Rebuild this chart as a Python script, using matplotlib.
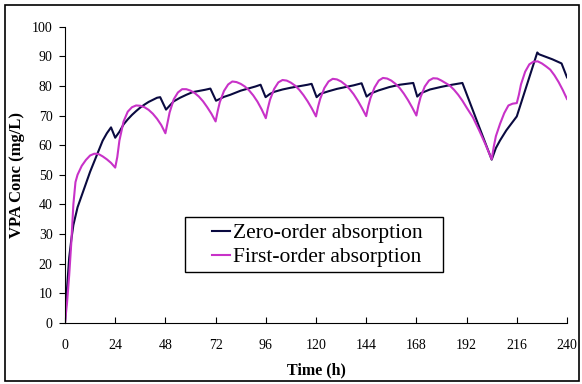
import matplotlib.pyplot as plt
from matplotlib.patches import Rectangle

plt.rcParams['font.family'] = ['Liberation Serif', 'DejaVu Serif']

# zero-order absorption
t_zero = [0, 1, 2, 3, 4, 5, 6, 7, 8, 10, 12, 14, 16, 18, 20, 22, 24,
          26, 28, 30, 32, 34, 36, 38, 40, 42, 44, 45.5, 48.3,
          50, 52, 55, 58, 61, 64, 67, 69.5, 72.2,
          74, 76, 79, 84, 88, 91, 93.5, 95.9,
          98, 100, 104, 108, 112, 116, 117.9, 120.3,
          122, 126, 130, 134, 138, 141.8, 144.2,
          146, 150, 155, 160, 166.5, 168.4,
          170, 174.5, 180, 185, 190,
          204, 206, 208, 211, 216, 225.8, 226.6, 233, 237.4, 240]
c_zero = [0, 12, 22, 28, 33, 36, 39, 41, 43, 47, 51, 54.5, 58, 61.5, 64, 66, 62.5,
          64.5, 67, 68.7, 70.2, 71.5, 72.7, 73.7, 74.6, 75.3, 76, 76.2, 72,
          73.3, 74.8, 76, 77, 77.9, 78.3, 78.7, 79.1, 75,
          75.6, 76.3, 77, 78.4, 79.2, 79.8, 80.4, 76.2,
          77.3, 78, 78.8, 79.4, 79.9, 80.4, 80.7, 76.2,
          77.3, 78.2, 79, 79.6, 80.2, 80.9, 76.4,
          77.4, 78.5, 79.6, 80.4, 81, 76.4,
          77.5, 78.8, 79.7, 80.4, 81,
          55.1, 59, 61.6, 65, 69.7, 91.3, 90.7, 89, 87.6, 82.9]

# first-order absorption
t_first = [0, 1, 2, 3, 4, 5, 6, 8, 10, 12, 14, 16, 18, 20, 22, 24,
           25, 26, 28, 30, 32, 34, 36, 38, 40, 42, 44, 46, 48,
           49, 50, 52, 54, 56, 58, 60, 62, 64, 66, 68, 70, 72,
           73, 74, 76, 78, 80, 82, 84, 86, 88, 90, 92, 94, 96,
           97, 98, 100, 102, 104, 106, 108, 110, 112, 114, 116, 118, 120,
           121, 122, 124, 126, 128, 130, 132, 134, 136, 138, 140, 142, 144,
           145, 146, 148, 150, 152, 154, 156, 158, 160, 162, 164, 166, 168,
           169, 170, 172, 174, 176, 178, 180, 184, 186, 188, 190, 192, 195, 198, 201, 204,
           205, 206, 208, 210, 212, 214, 216, 217, 218, 220, 222, 224, 226, 228, 230, 232,
           234, 236, 238, 240]
c_first = [0, 7, 16, 27, 40, 47.5, 50, 53, 55, 56.5, 57.1, 57, 56.2, 55.2, 54, 52.4,
           56, 61.5, 68, 71.3, 72.8, 73.4, 73.3, 72.8, 71.9, 70.6, 68.9, 66.8, 64,
           67.5, 71, 75.5, 77.8, 78.9, 78.9, 78.4, 77.6, 76.4, 74.8, 72.8, 70.6, 68,
           71.5, 74.5, 78.3, 80.5, 81.5, 81.3, 80.7, 79.8, 78.5, 76.8, 74.7, 72.1, 69.1,
           72.5, 75.3, 79, 81.2, 82, 81.8, 81.1, 80.1, 78.7, 76.9, 74.8, 72.4, 69.7,
           73, 75.6, 79.3, 81.5, 82.4, 82.2, 81.5, 80.4, 79, 77.2, 75, 72.5, 69.8,
           73.2, 75.8, 79.5, 81.8, 82.7, 82.5, 81.8, 80.7, 79.3, 77.4, 75.2, 72.7, 70,
           73.5, 76.2, 79.8, 81.8, 82.6, 82.5, 81.8, 80.1, 78.7, 77, 75, 72.7, 69.4, 65, 60.3, 55.2,
           59.5, 63, 67.2, 70.8, 73.4, 74, 74.2, 77, 80.5, 84.8, 87.3, 88.2, 88.3, 87.6, 86.6, 85.5,
           83.6, 81.3, 78.6, 75.6]

x_ticks = list(range(0, 241, 24))
y_ticks = list(range(0, 101, 10))

fig = plt.figure(figsize=(5.82, 3.84), dpi=100)
ax = fig.add_axes([0.1117, 0.1596, 0.8625, 0.7708])

ax.plot(t_zero, c_zero, color='#0a0a40', lw=1.5, label='Zero-order absorption')
ax.plot(t_first, c_first, color='#c832c8', lw=1.5, label='First-order absorption')

ax.set_xlim(0, 240)
ax.set_ylim(0, 100)
ax.set_xticks(x_ticks)
ax.set_yticks(y_ticks)
ax.tick_params(axis='x', direction='in', length=4, labelsize=10, pad=12)
ax.tick_params(axis='y', direction='out', length=4, labelsize=10, pad=5)
for side in ['top', 'right']:
    ax.spines[side].set_visible(False)

ax.set_xlabel('Time (h)', fontsize=11.5, fontweight='bold')
ax.set_ylabel('VPA Conc (mg/L)', fontsize=12, fontweight='bold')
ax.xaxis.set_label_coords(0.5, -0.133)
ax.yaxis.set_label_coords(-0.08, 0.5)

# legend box drawn separately so the padding matches the original
ax.add_patch(Rectangle((0.239, 0.171), 0.514, 0.186, transform=ax.transAxes,
                       fill=False, edgecolor='black', lw=1.0, zorder=4))
leg = ax.legend(loc='center left', bbox_to_anchor=(0.293, 0.262), fontsize=15.5,
                frameon=False, handlelength=0.85, handletextpad=0.12, borderpad=0,
                labelspacing=0.19, borderaxespad=0)

# outer chart border
fig.patches.append(Rectangle((0.0086, 0.0078), 0.986, 0.979, transform=fig.transFigure,
                             fill=False, edgecolor='black', lw=1.2))

fig.savefig('out.png', dpi=100)
